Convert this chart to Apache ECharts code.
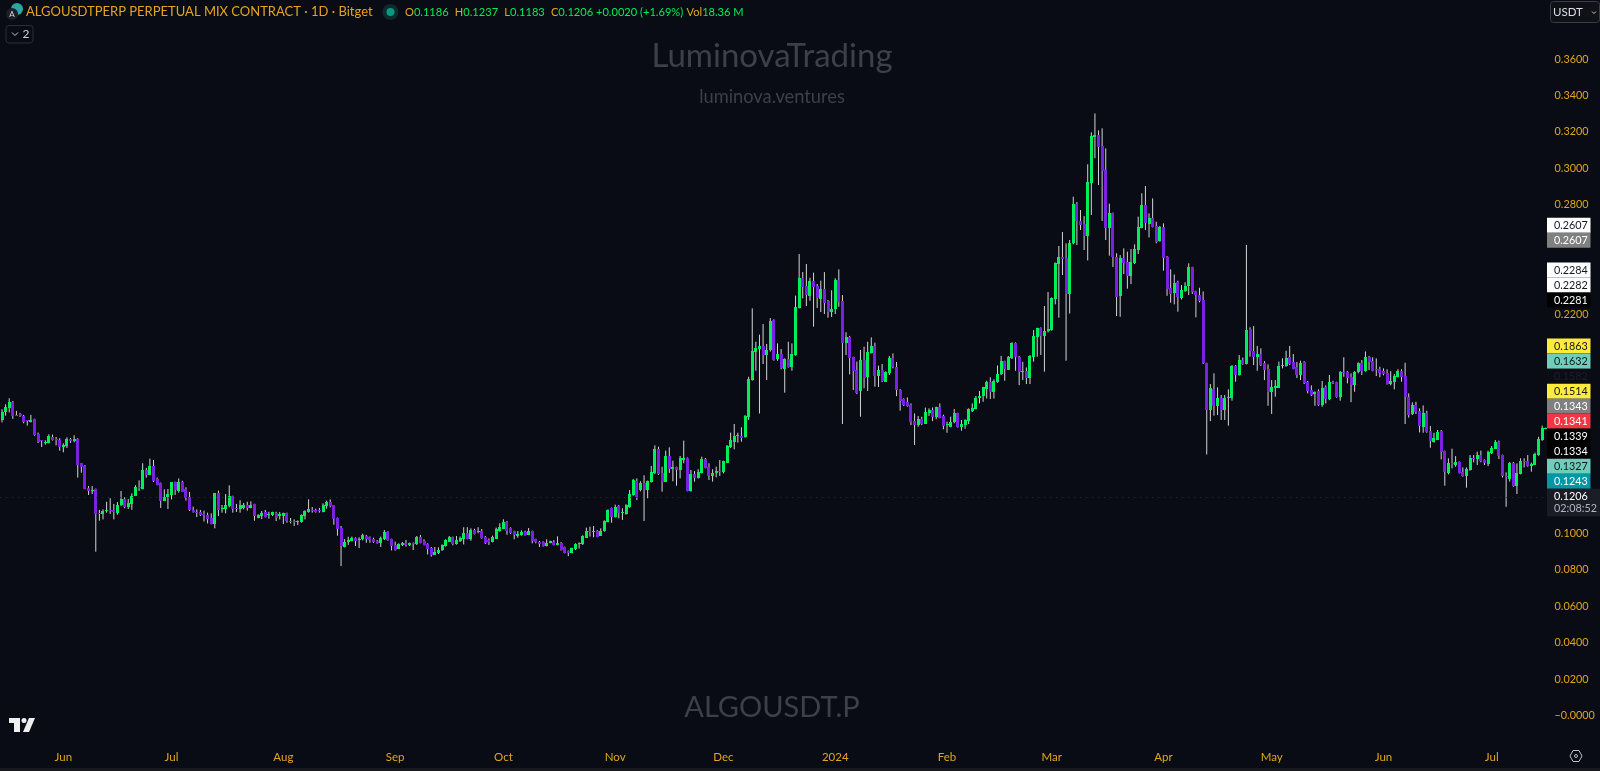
<!DOCTYPE html>
<html>
<head>
<meta charset="utf-8">
<title>ALGOUSDT.P</title>
<script src="https://cdn.jsdelivr.net/npm/echarts@6/dist/echarts.min.js"></script>
<style>
html, body { margin: 0; padding: 0; background: #090c15; }
#main { width: 1600px; height: 771px; }
</style>
</head>
<body>
<div id="main"></div>
<script>
// daily candles, first candle is 15 May 2023
const opens = [
0.1621,0.1663,0.1687,0.1722,0.1649,0.1654,0.1643,0.1621,0.1610,0.1625,
0.1543,0.1510,0.1495,0.1497,0.1530,0.1515,0.1511,0.1475,0.1478,0.1515,
0.1502,0.1515,0.1384,0.1371,0.1250,0.1234,0.1241,0.1109,0.1106,0.1120,
0.1128,0.1126,0.1113,0.1155,0.1186,0.1142,0.1160,0.1208,0.1252,0.1245,
0.1349,0.1323,0.1371,0.1299,0.1274,0.1177,0.1201,0.1210,0.1279,0.1235,
0.1283,0.1241,0.1197,0.1128,0.1118,0.1118,0.1106,0.1100,0.1086,0.1051,
0.1219,0.1135,0.1133,0.1151,0.1204,0.1139,0.1131,0.1137,0.1153,0.1142,
0.1159,0.1087,0.1095,0.1118,0.1100,0.1098,0.1113,0.1096,0.1095,0.1109,
0.1065,0.1067,0.1062,0.1060,0.1095,0.1117,0.1128,0.1130,0.1128,0.1117,
0.1151,0.1170,0.1153,0.1084,0.1027,0.0926,0.0950,
0.0959,0.0974,0.0963,0.0967,0.0985,0.0978,0.0969,0.0956,0.0947,0.0967,
0.1007,0.0967,0.0937,0.0916,0.0934,0.0947,0.0934,0.0947,0.0939,0.0982,
0.0959,0.0939,0.0919,0.0883,0.0892,0.0906,0.0930,0.0956,0.0978,0.0941,
0.0959,0.0967,0.1000,0.0967,0.1018,0.1009,0.1014,0.0982,0.0963,0.0954,
0.0972,0.1012,0.1027,0.1062,0.1031,0.1011,0.0987,0.0992,0.1009,0.0990,
0.1012,0.0967,0.0954,0.0952,0.0930,0.0947,0.0954,0.0939,0.0949,0.0925,
0.0903,0.0892,0.0912,0.0941,0.0941,0.0978,0.1011,0.1003,0.1014,0.0987,
0.1012,0.1062,0.1137,0.1089,0.1150,0.1111,0.1106,0.1142,0.1210,0.1289,
0.1234,0.1274,0.1234,0.1281,0.1329,0.1462,0.1332,0.1283,0.1424,0.1352,0.1362,
0.1343,0.1405,0.1413,0.1232,0.1323,0.1303,0.1332,0.1407,0.1362,0.1314,0.1332,0.1343,0.1332,0.1389,0.1471,
0.1502,0.1529,0.1535,0.1526,0.1639,0.1840,0.1996,0.2010,0.2027,0.1977,
0.2001,0.2167,0.1954,0.1981,0.1901,0.1957,0.1912,0.1977,0.2235,0.2401,
0.2356,0.2303,0.2385,0.2356,0.2286,0.2339,0.2272,0.2210,0.2228,0.2389,
0.2273,0.2041,0.2078,0.1966,0.1893,0.1780,0.1950,0.1853,0.1988,0.2027,
0.1862,0.1895,0.1831,0.1877,0.1959,0.1913,0.1787,0.1734,0.1720,0.1701,
0.1614,0.1592,0.1628,0.1603,0.1663,0.1676,0.1635,0.1690,0.1643,0.1592,
0.1584,0.1606,0.1657,0.1584,0.1593,0.1617,
0.1670,0.1683,0.1741,0.1748,0.1792,0.1827,0.1774,0.1829,0.1871,0.1944,
0.1898,0.1959,0.2041,0.1968,0.1886,0.1891,0.1851,0.1966,0.2076,0.2123,
0.2079,0.2105,0.2114,0.2284,0.2478,0.2515,0.2509,0.2313,0.2588,0.2803,
0.2714,0.2695,0.2630,0.2920,0.3173,0.3185,0.3123,0.2992,0.2672,0.2754,
0.2516,0.2297,0.2507,0.2485,0.2410,0.2480,0.2555,0.2675,0.2801,0.2699,
0.2728,0.2685,0.2602,0.2681,0.2516,0.2346,0.2319,0.2376,0.2293,0.2330,
0.2352,0.2458,0.2326,0.2306,0.2279,0.1931,
0.1672,0.1793,0.1698,0.1740,0.1676,0.1743,0.1740,0.1915,0.1866,0.1950,
0.1928,0.2118,0.2001,0.1968,0.1983,0.1931,0.1900,0.1774,0.1798,0.1800,
0.1917,0.1917,0.1965,0.1939,0.1910,0.1866,0.1939,0.1831,0.1785,0.1765,
0.1782,0.1705,0.1800,0.1734,0.1827,0.1827,0.1747,0.1886,0.1884,0.1855,
0.1813,0.1880,0.1933,0.1889,0.1968,0.1946,0.1899,0.1900,0.1889,0.1880,
0.1818,0.1831,0.1857,0.1889,0.1862,0.1749,0.1652,0.1701,0.1668,0.1584,
0.1659,0.1559,0.1502,0.1515,0.1559,0.1449,0.1328,0.1385,0.1372,0.1391,
0.1338,0.1317,0.1347,0.1414,0.1405,0.1429,0.1401,0.1383,0.1438,0.1464,
0.1502,0.1427,0.1314,0.1301,0.1387,0.1259,0.1327,0.1398,0.1396,0.1367,0.1376,0.1429,0.1511,0.1575
];
const closes = [
0.1667,0.1691,0.1720,0.1645,0.1645,0.1641,0.1608,0.1617,0.1623,0.1537,
0.1497,0.1504,0.1502,0.1533,0.1511,0.1508,0.1473,0.1484,0.1517,0.1502,
0.1515,0.1371,0.1362,0.1246,0.1232,0.1239,0.1106,0.1106,0.1124,0.1128,
0.1124,0.1115,0.1157,0.1186,0.1142,0.1164,0.1202,0.1256,0.1248,0.1347,
0.1323,0.1371,0.1288,0.1267,0.1177,0.1201,0.1215,0.1279,0.1234,0.1283,
0.1230,0.1192,0.1124,0.1117,0.1113,0.1100,0.1100,0.1080,0.1051,0.1221,
0.1128,0.1137,0.1157,0.1204,0.1133,0.1135,0.1153,0.1155,0.1139,0.1157,
0.1095,0.1102,0.1109,0.1091,0.1106,0.1117,0.1087,0.1106,0.1109,0.1064,
0.1062,0.1064,0.1069,0.1100,0.1122,0.1131,0.1124,0.1117,0.1124,0.1157,
0.1173,0.1150,0.1078,0.1023,0.0926,0.0952,0.0963,
0.0976,0.0959,0.0969,0.0989,0.0967,0.0963,0.0950,0.0947,0.0976,0.1007,
0.0961,0.0930,0.0908,0.0943,0.0945,0.0934,0.0945,0.0939,0.0980,0.0949,
0.0937,0.0914,0.0883,0.0897,0.0910,0.0936,0.0965,0.0982,0.0941,0.0963,
0.0974,0.1001,0.0969,0.1018,0.0998,0.1014,0.0974,0.0947,0.0952,0.0982,
0.1025,0.1033,0.1064,0.1012,0.1003,0.0987,0.0998,0.1009,0.0990,0.1012,
0.0959,0.0949,0.0945,0.0930,0.0949,0.0956,0.0939,0.0949,0.0910,0.0892,
0.0890,0.0917,0.0941,0.0947,0.0985,0.1014,0.1007,0.1011,0.0982,0.1014,
0.1067,0.1126,0.1089,0.1142,0.1109,0.1117,0.1155,0.1215,0.1292,0.1204,
0.1274,0.1237,0.1285,0.1336,0.1462,0.1325,0.1281,0.1424,0.1352,0.1362,0.1343,
0.1411,0.1415,0.1232,0.1323,0.1299,0.1338,0.1407,0.1360,0.1314,0.1332,0.1343,0.1338,0.1395,0.1480,0.1511,
0.1535,0.1537,0.1526,0.1643,0.1848,0.2001,0.2018,0.2025,0.1977,0.2005,
0.2162,0.1950,0.1983,0.1902,0.1957,0.1912,0.1983,0.2241,0.2400,0.2352,
0.2305,0.2385,0.2352,0.2290,0.2341,0.2264,0.2210,0.2228,0.2389,0.2268,
0.2041,0.2074,0.1965,0.1891,0.1767,0.1948,0.1851,0.1992,0.2027,0.1862,
0.1895,0.1833,0.1884,0.1959,0.1910,0.1785,0.1725,0.1701,0.1698,0.1606,
0.1593,0.1626,0.1603,0.1667,0.1678,0.1637,0.1690,0.1632,0.1590,0.1597,
0.1610,0.1657,0.1581,0.1599,0.1619,0.1681,
0.1686,0.1743,0.1754,0.1800,0.1831,0.1774,0.1836,0.1875,0.1944,0.1898,
0.1968,0.2041,0.1962,0.1886,0.1891,0.1851,0.1972,0.2081,0.2123,0.2078,
0.2109,0.2118,0.2290,0.2482,0.2515,0.2504,0.2313,0.2593,0.2803,0.2712,
0.2690,0.2630,0.2924,0.3178,0.3185,0.3120,0.2988,0.2672,0.2754,0.2513,
0.2297,0.2507,0.2481,0.2410,0.2487,0.2558,0.2681,0.2801,0.2703,0.2730,
0.2681,0.2599,0.2681,0.2513,0.2341,0.2315,0.2374,0.2293,0.2335,0.2355,
0.2458,0.2319,0.2304,0.2271,0.1931,0.1672,
0.1794,0.1698,0.1740,0.1676,0.1743,0.1745,0.1915,0.1868,0.1950,0.1926,
0.2114,0.1996,0.1968,0.1983,0.1922,0.1895,0.1774,0.1802,0.1807,0.1919,
0.1924,0.1963,0.1928,0.1900,0.1866,0.1933,0.1826,0.1784,0.1758,0.1774,
0.1707,0.1796,0.1736,0.1827,0.1824,0.1747,0.1886,0.1882,0.1853,0.1813,
0.1886,0.1931,0.1888,0.1966,0.1939,0.1891,0.1895,0.1877,0.1871,0.1818,
0.1835,0.1864,0.1889,0.1857,0.1747,0.1652,0.1703,0.1661,0.1584,0.1661,
0.1555,0.1506,0.1522,0.1557,0.1445,0.1332,0.1385,0.1380,0.1391,0.1332,
0.1316,0.1354,0.1411,0.1411,0.1429,0.1394,0.1383,0.1447,0.1467,0.1502,
0.1423,0.1310,0.1308,0.1387,0.1259,0.1330,0.1396,0.1394,0.1369,0.1380,0.1434,0.1515,0.1575,0.1579
];
const highs = [
0.1680,0.1707,0.1740,0.1725,0.1671,0.1660,0.1649,0.1621,0.1649,0.1628,
0.1552,0.1511,0.1510,0.1543,0.1541,0.1528,0.1521,0.1493,0.1526,0.1522,
0.1537,0.1521,0.1384,0.1374,0.1259,0.1259,0.1245,0.1128,0.1131,0.1173,
0.1192,0.1161,0.1171,0.1232,0.1197,0.1188,0.1219,0.1263,0.1290,0.1384,
0.1358,0.1409,0.1402,0.1305,0.1278,0.1241,0.1243,0.1281,0.1283,0.1301,
0.1288,0.1252,0.1226,0.1146,0.1131,0.1128,0.1124,0.1113,0.1109,0.1221,
0.1234,0.1155,0.1215,0.1263,0.1206,0.1161,0.1181,0.1166,0.1173,0.1175,
0.1162,0.1104,0.1122,0.1128,0.1118,0.1118,0.1118,0.1117,0.1113,0.1113,
0.1084,0.1076,0.1071,0.1104,0.1126,0.1186,0.1144,0.1135,0.1139,0.1164,
0.1179,0.1186,0.1155,0.1086,0.1040,0.0968,0.0981,
0.0982,0.0978,0.0978,0.0998,0.0991,0.0983,0.0976,0.0963,0.0982,0.1018,
0.1011,0.0970,0.0954,0.0945,0.0952,0.0963,0.0949,0.0950,0.0985,0.0991,
0.0967,0.0945,0.0925,0.0925,0.0923,0.0939,0.0967,0.0985,0.0982,0.0985,
0.0982,0.1033,0.1033,0.1027,0.1025,0.1033,0.1023,0.0985,0.0972,0.0987,
0.1031,0.1055,0.1077,0.1067,0.1033,0.1014,0.1012,0.1016,0.1014,0.1029,
0.1014,0.0970,0.0958,0.0956,0.0967,0.0959,0.0963,0.0983,0.0952,0.0927,
0.0906,0.0921,0.0945,0.0950,0.0989,0.1031,0.1036,0.1040,0.1018,0.1027,
0.1071,0.1131,0.1141,0.1157,0.1155,0.1137,0.1159,0.1237,0.1298,0.1301,
0.1285,0.1318,0.1289,0.1369,0.1482,0.1475,0.1365,0.1453,0.1471,0.1398,0.1365,
0.1424,0.1508,0.1416,0.1347,0.1341,0.1351,0.1420,0.1413,0.1384,0.1351,0.1365,0.1402,0.1398,0.1484,0.1552,
0.1599,0.1551,0.1581,0.1648,0.1858,0.2233,0.2050,0.2089,0.2147,0.2038,
0.2180,0.2173,0.2041,0.2010,0.1959,0.2050,0.2041,0.2303,0.2531,0.2432,
0.2476,0.2401,0.2429,0.2367,0.2385,0.2432,0.2279,0.2332,0.2398,0.2447,
0.2306,0.2102,0.2082,0.1968,0.1941,0.2005,0.2023,0.2050,0.2074,0.2045,
0.1919,0.1928,0.1888,0.1972,0.1986,0.1939,0.1791,0.1740,0.1745,0.1712,
0.1657,0.1643,0.1639,0.1689,0.1685,0.1690,0.1694,0.1712,0.1650,0.1612,
0.1639,0.1681,0.1661,0.1621,0.1625,0.1685,
0.1712,0.1752,0.1780,0.1803,0.1836,0.1855,0.1844,0.1920,0.1972,0.1946,
0.1972,0.2047,0.2047,0.1972,0.1940,0.1909,0.1977,0.2114,0.2127,0.2129,
0.2246,0.2323,0.2293,0.2485,0.2575,0.2652,0.2589,0.2608,0.2845,0.2816,
0.2772,0.2739,0.3023,0.3198,0.3302,0.3209,0.3220,0.3110,0.2807,0.2758,
0.2535,0.2525,0.2562,0.2544,0.2558,0.2584,0.2736,0.2864,0.2904,0.2754,
0.2836,0.2708,0.2685,0.2699,0.2520,0.2447,0.2419,0.2385,0.2361,0.2376,
0.2480,0.2461,0.2330,0.2346,0.2326,0.1935,
0.1818,0.1877,0.1800,0.1758,0.1758,0.1789,0.1922,0.1922,0.1977,0.1963,
0.2581,0.2129,0.2136,0.2027,0.2014,0.1944,0.1926,0.1840,0.1840,0.1941,
0.1959,0.2001,0.2027,0.1983,0.1939,0.1946,0.1944,0.1835,0.1811,0.1778,
0.1789,0.1835,0.1811,0.1868,0.1836,0.1831,0.1889,0.1965,0.1889,0.1877,
0.1889,0.1937,0.1950,0.1997,0.1972,0.1965,0.1959,0.1913,0.1904,0.1899,
0.1889,0.1873,0.1899,0.1899,0.1935,0.1767,0.1718,0.1721,0.1685,0.1701,
0.1672,0.1588,0.1551,0.1566,0.1566,0.1453,0.1411,0.1464,0.1423,0.1394,
0.1361,0.1361,0.1429,0.1429,0.1447,0.1453,0.1405,0.1453,0.1478,0.1511,
0.1508,0.1431,0.1334,0.1391,0.1391,0.1383,0.1411,0.1411,0.1429,0.1387,0.1442,0.1529,0.1590,0.1579
];
const lows = [
0.1608,0.1645,0.1663,0.1627,0.1643,0.1638,0.1603,0.1590,0.1608,0.1535,
0.1495,0.1473,0.1486,0.1493,0.1508,0.1482,0.1453,0.1444,0.1468,0.1495,
0.1499,0.1305,0.1332,0.1241,0.1210,0.1215,0.0899,0.1069,0.1076,0.1113,
0.1106,0.1076,0.1102,0.1150,0.1137,0.1133,0.1129,0.1204,0.1232,0.1241,
0.1305,0.1320,0.1281,0.1263,0.1139,0.1177,0.1133,0.1186,0.1210,0.1223,
0.1226,0.1179,0.1122,0.1113,0.1089,0.1095,0.1065,0.1054,0.1049,0.1027,
0.1095,0.1113,0.1109,0.1142,0.1113,0.1117,0.1113,0.1131,0.1124,0.1137,
0.1069,0.1082,0.1078,0.1087,0.1080,0.1095,0.1067,0.1076,0.1051,0.1058,
0.1054,0.1040,0.1045,0.1058,0.1076,0.1113,0.1113,0.1113,0.1113,0.1115,
0.1135,0.1142,0.1047,0.0987,0.0820,0.0923,0.0936,
0.0956,0.0930,0.0919,0.0961,0.0948,0.0948,0.0947,0.0943,0.0925,0.0963,
0.0959,0.0906,0.0905,0.0914,0.0930,0.0927,0.0930,0.0908,0.0936,0.0945,
0.0934,0.0884,0.0872,0.0881,0.0886,0.0903,0.0927,0.0952,0.0934,0.0938,
0.0952,0.0939,0.0967,0.0959,0.0994,0.1000,0.0970,0.0941,0.0936,0.0950,
0.0970,0.1009,0.1023,0.0992,0.0996,0.0967,0.0976,0.0987,0.0987,0.0990,
0.0945,0.0945,0.0925,0.0927,0.0928,0.0945,0.0934,0.0934,0.0905,0.0890,
0.0875,0.0890,0.0908,0.0916,0.0936,0.0974,0.0982,0.0978,0.0978,0.0985,
0.1009,0.1060,0.1058,0.1086,0.1082,0.1073,0.1102,0.1140,0.1206,0.1182,
0.1230,0.1067,0.1192,0.1278,0.1325,0.1320,0.1228,0.1281,0.1331,0.1285,0.1261,
0.1301,0.1384,0.1230,0.1228,0.1283,0.1300,0.1328,0.1356,0.1292,0.1283,0.1307,0.1314,0.1328,0.1387,0.1468,
0.1460,0.1497,0.1502,0.1524,0.1621,0.1837,0.1891,0.1657,0.1928,0.1840,
0.1996,0.1946,0.1946,0.1899,0.1771,0.1908,0.1891,0.1974,0.2233,0.2288,
0.2246,0.2275,0.2133,0.2235,0.2213,0.2202,0.2182,0.2186,0.2202,0.2242,
0.1599,0.1977,0.1871,0.1785,0.1763,0.1639,0.1795,0.1780,0.1986,0.1804,
0.1802,0.1829,0.1829,0.1868,0.1904,0.1752,0.1672,0.1698,0.1694,0.1593,
0.1484,0.1584,0.1593,0.1601,0.1643,0.1615,0.1625,0.1630,0.1570,0.1551,
0.1581,0.1603,0.1579,0.1562,0.1573,0.1599,
0.1664,0.1679,0.1712,0.1721,0.1739,0.1736,0.1739,0.1825,0.1867,0.1836,
0.1895,0.1955,0.1891,0.1812,0.1840,0.1818,0.1818,0.1941,0.1968,0.1977,
0.1886,0.2101,0.2111,0.2255,0.2182,0.2416,0.1946,0.2205,0.2584,0.2580,
0.2663,0.2553,0.2496,0.2745,0.3056,0.2909,0.2712,0.2608,0.2522,0.2460,
0.2191,0.2187,0.2421,0.2341,0.2366,0.2476,0.2531,0.2672,0.2663,0.2622,
0.2677,0.2590,0.2599,0.2440,0.2302,0.2264,0.2255,0.2215,0.2282,0.2324,
0.2306,0.2312,0.2184,0.2266,0.1928,0.1432,
0.1615,0.1645,0.1648,0.1621,0.1621,0.1590,0.1727,0.1831,0.1864,0.1924,
0.1926,0.1968,0.1922,0.1891,0.1917,0.1840,0.1699,0.1654,0.1749,0.1796,
0.1904,0.1913,0.1922,0.1899,0.1851,0.1840,0.1818,0.1767,0.1752,0.1699,
0.1699,0.1694,0.1712,0.1730,0.1818,0.1743,0.1727,0.1858,0.1822,0.1719,
0.1776,0.1877,0.1868,0.1886,0.1895,0.1888,0.1862,0.1855,0.1866,0.1815,
0.1811,0.1789,0.1855,0.1831,0.1599,0.1634,0.1648,0.1654,0.1553,0.1551,
0.1551,0.1469,0.1497,0.1511,0.1405,0.1261,0.1323,0.1356,0.1365,0.1328,
0.1310,0.1250,0.1343,0.1389,0.1374,0.1389,0.1374,0.1368,0.1434,0.1462,
0.1407,0.1306,0.1145,0.1283,0.1255,0.1215,0.1323,0.1361,0.1365,0.1338,0.1374,0.1425,0.1507,0.1570
];
const monthNames = ['2024','Feb','Mar','Apr','May','Jun','Jul','Aug','Sep','Oct','Nov','Dec'];
const priceTicks = ['0.3600','0.3400','0.3200','0.3000','0.2800','0.2200','0.1000','0.0800','0.0600','0.0400','0.0200','0.0000'];
const lastPrice = 0.1206;

const font = 'Lato, "Noto Sans", sans-serif';
const amber = '#e5a51d';
const upColor = '#00ee58';
const downColor = '#7a22e2';

// one category per day
const categories = [];
for (let i = 0; i < opens.length; i++) {
    categories.push(new Date(Date.UTC(2023, 4, 15 + i)).toISOString().slice(0, 10));
}
const candles = categories.map(function (d, i) {
    return [i, opens[i], closes[i], lows[i], highs[i]];
});

function renderCandle(params, api) {
    const x = api.coord([api.value(0), 0])[0];
    const yOpen = api.coord([0, api.value(1)])[1];
    const yClose = api.coord([0, api.value(2)])[1];
    const yLow = api.coord([0, api.value(3)])[1];
    const yHigh = api.coord([0, api.value(4)])[1];
    const up = api.value(2) >= api.value(1);
    const top = Math.round(Math.min(yOpen, yClose));
    const h = Math.max(1, Math.round(Math.abs(yOpen - yClose)));
    return {
        type: 'group',
        children: [{
            type: 'line',
            shape: { x1: x, y1: yHigh, x2: x, y2: yLow },
            style: { stroke: '#d4d4d4', lineWidth: 1 }
        }, {
            type: 'rect',
            shape: { x: Math.round(x - 1.5), y: top, width: 3, height: h },
            style: { fill: up ? upColor : downColor }
        }]
    };
}

// price tag on the right scale
function tag(text, fill, color, y) {
    return {
        type: 'group',
        children: [{
            type: 'rect',
            shape: { x: 1547, y: y - 7.2, width: 43.5, height: 15 },
            style: { fill: fill }
        }, {
            type: 'text',
            style: {
                x: 1554, y: y + 0.8, text: text, fill: color, font: '10.8px ' + font,
                verticalAlign: 'middle', align: 'left'
            }
        }]
    };
}

function label(text, x, y, size, color, align) {
    return {
        type: 'text',
        style: {
            x: x, y: y, text: text, fill: color, font: size + 'px ' + font,
            align: align || 'left', verticalAlign: 'middle'
        }
    };
}

const chart = echarts.init(document.getElementById('main'));
chart.setOption({
    backgroundColor: '#090c15',
    animation: false,
    grid: { left: 0.2, width: 1547.4, top: 22.56, height: 729.6 },
    xAxis: {
        type: 'category',
        data: categories,
        boundaryGap: true,
        axisLine: { show: false },
        axisTick: { show: false },
        splitLine: { show: false },
        axisLabel: {
            color: amber,
            fontFamily: font,
            fontSize: 11.5,
            margin: -1,
            hideOverlap: false,
            interval: function (i, v) {
                return v.slice(8) === '01';
            },
            formatter: function (v) {
                return monthNames[parseInt(v.slice(5, 7), 10) - 1];
            }
        }
    },
    yAxis: {
        type: 'value',
        position: 'right',
        min: -0.02,
        max: 0.38,
        interval: 0.02,
        axisLine: { show: false },
        axisTick: { show: false },
        splitLine: { show: false },
        axisLabel: {
            color: amber,
            fontFamily: font,
            fontSize: 10.8,
            margin: 7,
            formatter: function (v) {
                const s = Math.abs(v).toFixed(4);
                if (priceTicks.indexOf(s) < 0 || v < 0) return '';
                return s === '0.0000' ? '\u22120.0000' : s;
            }
        }
    },
    series: [{
        type: 'custom',
        name: 'ALGOUSDT.P',
        renderItem: renderCandle,
        encode: { x: 0, y: [1, 2, 3, 4] },
        data: candles,
        clip: false,
        markLine: {
            silent: true,
            symbol: 'none',
            label: { show: false },
            lineStyle: { color: '#2c3038', type: [1, 5], width: 1 },
            data: [{ yAxis: lastPrice }]
        }
    }],
    graphic: { elements: [
        // watermark
        label('LuminovaTrading', 772, 56, 33, '#3d3f49', 'center'),
        label('luminova.ventures', 772, 97, 18.3, '#3d3f49', 'center'),
        label('ALGOUSDT.P', 772, 708, 29, '#3d3f49', 'center'),
        // header
        { type: 'circle', shape: { cx: 17, cy: 9, r: 6 }, style: { fill: '#2aa7a0' } },
        { type: 'circle', shape: { cx: 12, cy: 14, r: 6 }, style: { fill: '#1c1f28' } },
        label('A', 12, 14, 8, '#d8d8d8', 'center'),
        label('ALGOUSDTPERP PERPETUAL MIX CONTRACT \u00b7 1D \u00b7 Bitget', 26, 12, 13, amber),
        { type: 'circle', shape: { cx: 390.5, cy: 12, r: 8 }, style: { fill: '#0d2b2c' } },
        { type: 'circle', shape: { cx: 390.5, cy: 12, r: 4 }, style: { fill: '#089981' } },
        {
            type: 'text',
            style: {
                x: 405, y: 12, verticalAlign: 'middle',
                text: '{a|O}{b|0.1186 } {a|H}{b|0.1237 } {a|L}{b|0.1183 } {a|C}{b|0.1206 +0.0020 (+1.69%)} {a|Vol}{b|18.36 M}',
                rich: {
                    a: { fill: amber, font: '11.1px ' + font },
                    b: { fill: upColor, font: '11.1px ' + font }
                }
            }
        },
        { type: 'rect', shape: { x: 6, y: 25.5, width: 27, height: 17.5, r: 3 }, style: { fill: '#090c15', stroke: '#2b2e38', lineWidth: 1 } },
        { type: 'polyline', shape: { points: [[12, 32.5], [15, 35.5], [18, 32.5]] }, style: { stroke: '#c8c8c8', fill: null, lineWidth: 1 } },
        label('2', 26, 34, 12, '#d0d0d0', 'center'),
        // currency button
        { type: 'rect', shape: { x: 1550.5, y: 1.5, width: 49, height: 21, r: 3 }, style: { fill: '#101218', stroke: '#3a3d48', lineWidth: 1 } },
        label('USDT', 1553, 12, 11.5, '#d8dce8'),
        { type: 'polyline', shape: { points: [[1592, 11.5], [1594, 13.5], [1596, 11.5]] }, style: { stroke: '#c8c8c8', fill: null, lineWidth: 1 } },
        // TradingView mark
        { type: 'polygon', shape: { points: [[9, 718], [20, 718], [20, 732], [14, 732], [14, 723], [9, 723]] }, style: { fill: '#f0f0f0' } },
        { type: 'circle', shape: { cx: 24, cy: 720.5, r: 2.5 }, style: { fill: '#f0f0f0' } },
        { type: 'polygon', shape: { points: [[29, 718], [35, 718], [29, 732], [23, 732]] }, style: { fill: '#f0f0f0' } },
        // settings gear and bottom edge
        { type: 'polygon', shape: { points: [[1570, 756], [1573, 750.5], [1579, 750.5], [1582, 756], [1579, 761.5], [1573, 761.5]] }, style: { fill: null, stroke: '#b8bcc4', lineWidth: 1 } },
        { type: 'circle', shape: { cx: 1576, cy: 756, r: 1.5 }, style: { fill: null, stroke: '#b8bcc4', lineWidth: 1 } },
        { type: 'rect', shape: { x: 0, y: 768, width: 1600, height: 3 }, style: { fill: '#17191f' } },
        // price tags on the scale
        tag('0.2607', '#ffffff', '#131722', 225),
        tag('0.2607', '#808080', '#ffffff', 240),
        tag('0.2284', '#ffffff', '#131722', 269.7),
        tag('0.2282', '#ffffff', '#131722', 284.7),
        tag('0.2281', '#000000', '#ffffff', 299.7),
        tag('0.1863', '#ffeb3b', '#131722', 345.7),
        tag('0.1632', '#6fcdb9', '#131722', 361),
        tag('0.1582', '#0a0d16', '#1b1e28', 376),
        tag('0.1514', '#ffeb3b', '#131722', 391),
        tag('0.1343', '#808080', '#ffffff', 405.7),
        tag('0.1341', '#f23645', '#ffffff', 420.7),
        tag('0.1339', '#000000', '#ffffff', 436),
        tag('0.1334', '#000000', '#ffffff', 451),
        tag('0.1327', '#6fcdb9', '#131722', 466),
        tag('0.1243', '#0097a7', '#ffffff', 481),
        { type: 'rect', shape: { x: 1547, y: 488.7, width: 53, height: 27.5 }, style: { fill: '#1a1d26' } },
        label('0.1206', 1554, 496.8, 10.8, '#ffffff'),
        label('02:08:52', 1554, 509, 10.8, '#b2b5be')
    ] }
});
</script>
</body>
</html>
